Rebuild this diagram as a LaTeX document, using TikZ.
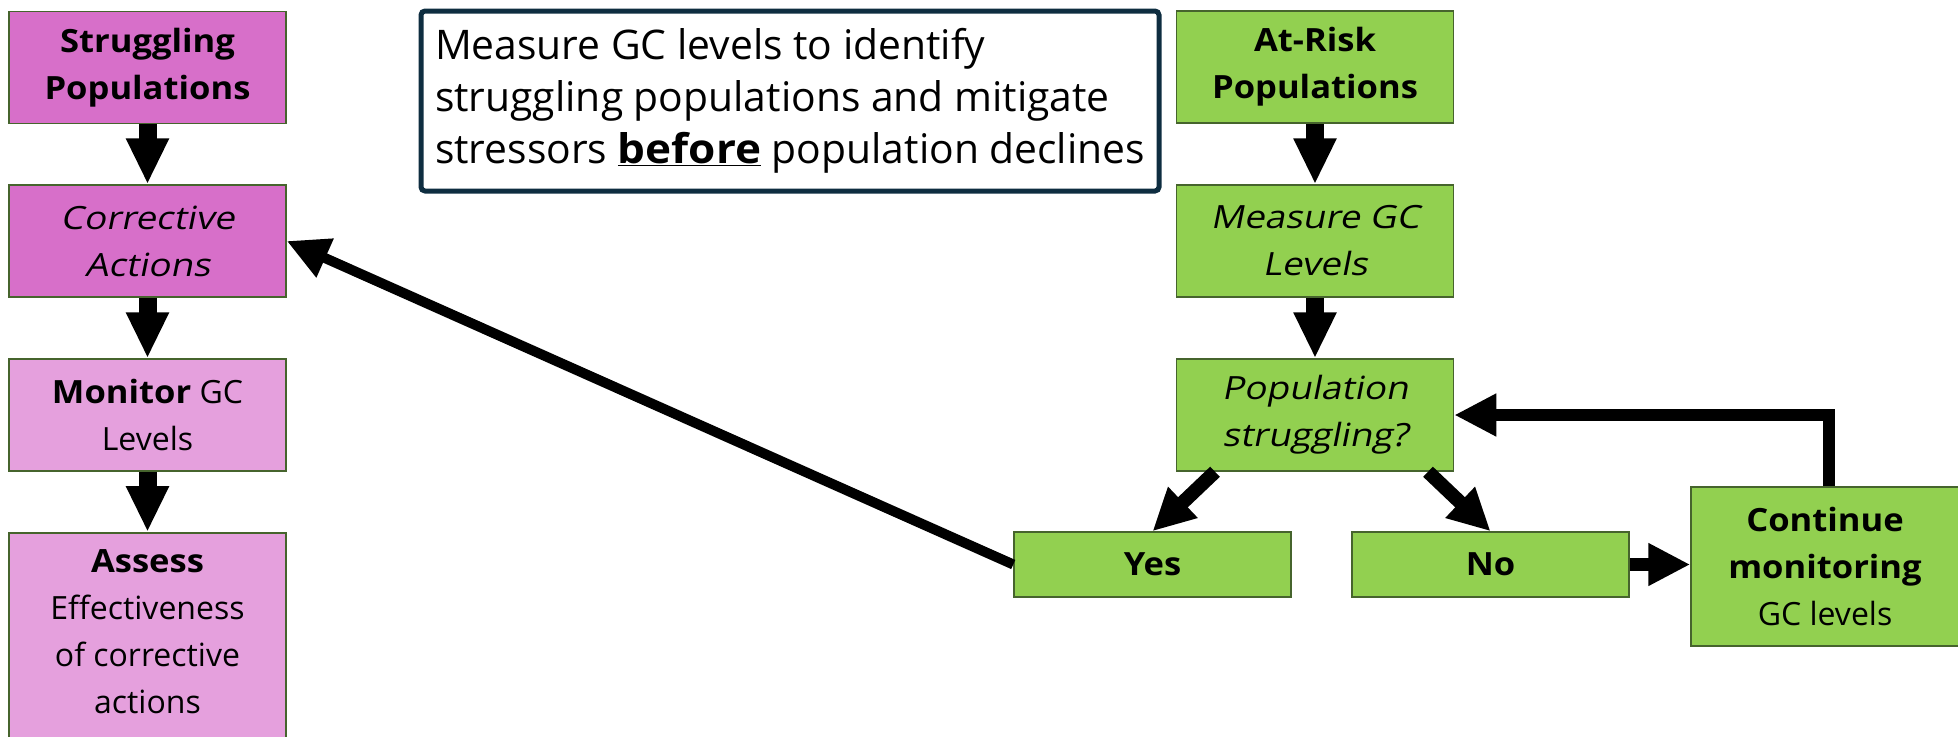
\documentclass[tikz,border=0pt]{standalone}
\usepackage{fontspec}
\setmainfont{Open Sans}[ItalicFont=Open Sans, ItalicFeatures={FakeSlant=0.2,FakeStretch=1.15}, BoldFeatures={FakeStretch=1.08}]
\usetikzlibrary{arrows.meta,calc}
\definecolor{pinkdark}{RGB}{215,111,201}
\definecolor{pinklight}{RGB}{229,160,221}
\definecolor{leaf}{RGB}{146,208,80}
\definecolor{boxedge}{RGB}{70,100,45}
\definecolor{navy}{RGB}{14,45,64}
\tikzset{
  fbox/.style={draw=boxedge, line width=1.5pt, minimum width=277pt, align=center, inner sep=0pt,
    font=\fontsize{32pt}{47pt}\selectfont},
  darkp/.style={fbox, fill=pinkdark, minimum height=112pt},
  lightp/.style={fbox, fill=pinklight, minimum height=112pt},
  greenb/.style={fbox, fill=leaf, minimum height=112pt},
  vdown/.style={line width=18pt, -{Triangle[width=40pt,length=46pt]}},
  thinarrow/.style={line width=#1, -{Triangle[width=40pt,length=42pt]}},
}
\begin{document}
\begin{tikzpicture}[x=1pt,y=-1pt]
\useasboundingbox (0,0) rectangle (1958,736);
\begin{scope}
\clip (0,0) rectangle (1958,736);
% left column
\node[darkp] (strug) at (147.5,67.5) {\textbf{Struggling}\\\textbf{Populations}};
\node[darkp] (corr) at (147.5,241) {\textit{Corrective}\\\textit{Actions}};
\node[lightp] (mon) at (147.5,415) {\textbf{Monitor} GC\\Levels};
\node[lightp, minimum height=240pt, anchor=north, text depth=0pt] (assess) at (147.5,532) {\textbf{Assess}\\Effectiveness\\of corrective\\actions\\[-4pt]\mbox{}};
% note box
\node[draw=navy, line width=5pt, rounded corners=4pt, fill=white, minimum width=738pt, minimum height=180pt,
  align=left, inner sep=0pt, font=\fontsize{40.8pt}{52pt}\selectfont] (note) at (790,101)
  {Measure GC levels to identify\\struggling populations and mitigate\\stressors \underline{\textbf{before}} population declines};
% right column
\node[greenb] (risk) at (1315,67) {\textbf{At-Risk}\\\textbf{Populations}};
\node[greenb] (meas) at (1315,241) {\textit{Measure GC}\\\textit{Levels}};
\node[greenb] (pop) at (1315,415) {\textit{Population}\\\textit{struggling?}};
\node[fbox, fill=leaf, minimum height=65pt] (yes) at (1152.5,564.5) {\textbf{Yes}};
\node[fbox, fill=leaf, minimum height=65pt] (no) at (1490.5,564.5) {\textbf{No}};
\node[fbox, fill=leaf, minimum width=268pt, minimum height=159pt] (cont) at (1825,566.5) {\textbf{Continue}\\\textbf{monitoring}\\GC levels};
% arrows
\draw[vdown] (strug.south) -- (corr.north);
\draw[vdown] (corr.south) -- (mon.north);
\draw[vdown] (mon.south) -- (assess.north);
\draw[vdown] (risk.south) -- (meas.north);
\draw[vdown] (meas.south) -- (pop.north);
\draw[thinarrow=14pt] ([xshift=-100pt]pop.south) -- (yes.north);
\draw[thinarrow=14pt] ([xshift=113pt]pop.south) -- (no.north);
\draw[thinarrow=13pt] (no.east) -- (no.east -| cont.west);
\draw[thinarrow=12pt] ([xshift=4pt]cont.north) |- (pop.east);
\draw[thinarrow=10pt] (yes.west) -- (corr.east);
\end{scope}
\end{tikzpicture}
\end{document}
